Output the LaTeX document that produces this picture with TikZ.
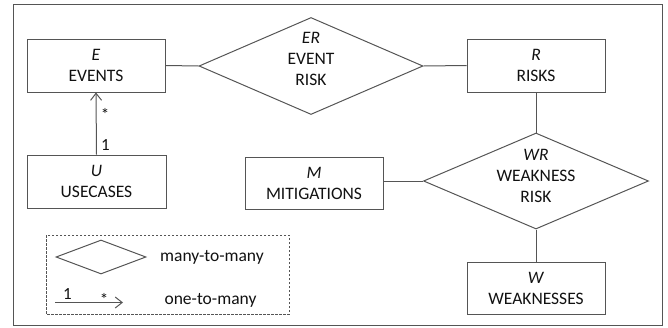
\documentclass[tikz,border=0pt]{standalone}
\usepackage{fontspec}
\setmainfont{Carlito}
\usetikzlibrary{shapes.geometric,arrows.meta}

\definecolor{ink}{HTML}{111111}
\definecolor{edge}{HTML}{555555}

\tikzset{
  entity/.style={draw=edge, line width=1pt, rectangle, minimum width=138pt,
    minimum height=53pt, inner sep=0pt, align=center, text=ink,
    font=\fontsize{17.5}{21}\selectfont},
  relation/.style={draw=edge, line width=1pt, diamond, inner sep=0pt},
  rellabel/.style={align=center, text=ink, inner sep=0pt,
    font=\fontsize{17.5}{21}\selectfont},
  link/.style={draw=edge, line width=1pt},
  mult/.style={text=ink, inner sep=0pt, font=\fontsize{17}{20}\selectfont},
  legtext/.style={text=ink, inner sep=0pt, font=\fontsize{17.5}{21}\selectfont},
  onemany/.style={link, -{Straight Barb[length=7pt,width=11pt]}},
}

\begin{document}
\begin{tikzpicture}[x=1pt, y=-1pt]
  \useasboundingbox (0,0) rectangle (668,327);
  % outer frame
  \draw[edge, line width=1pt] (13,4.5) rectangle (662,325.5);

  % entities
  \node[entity] (ev) at (96,65.5) {\textit{E}\\EVENTS};
  \node[entity] (rk) at (536,65.5) {\textit{R}\\RISKS};
  \node[entity, minimum width=139pt] (uc) at (96.5,181.5) {\textit{U}\\USECASES};
  \node[entity, minimum height=52pt] (mi) at (314,183) {\textit{M}\\MITIGATIONS};
  \node[entity, minimum height=52pt] (wk) at (536,288) {\textit{W}\\WEAKNESSES};

  % relationships
  \node[relation, minimum width=224pt, minimum height=97pt] (er) at (311,66) {};
  \node[rellabel] (ertext) at (311,58.5) {\textit{ER}\\EVENT\\RISK};
  \node[relation, minimum width=225pt, minimum height=96pt] (wr) at (536,181) {};
  \node[rellabel] (wrtext) at (536,176) {\textit{WR}\\WEAKNESS\\RISK};

  % connectors
  \draw[link] (ev.east) -- (er.west);
  \draw[link] (er.east) -- (rk.west);
  \draw[link] (rk.south) -- (wr.north);
  \draw[link] (mi.east |- wr.west) -- (wr.west);
  \draw[link] (wr.south) -- (wk.north);
  \draw[onemany] (uc.north) -- (ev.south);
  \node[mult] (evmany) at (105,114) {*};
  \node[mult] (ucone) at (105.5,145) {1};

  % legend
  \draw[edge, line width=0.9pt, dashed, dash pattern=on 2.5pt off 1.5pt]
    (46,235) rectangle (289,314);
  \node[relation, minimum width=90pt, minimum height=34pt] (legdia) at (101,257) {};
  \node[legtext] (legmm) at (212,257) {many-to-many};
  \coordinate (lega) at (55,302.5);
  \coordinate (legb) at (123,302.5);
  \draw[onemany] (lega) -- (legb);
  \node[mult] (legone) at (67.5,294) {1};
  \node[mult] (legmany) at (104,299) {*};
  \node[legtext] (legom) at (210.5,300) {one-to-many};
\end{tikzpicture}
\end{document}
